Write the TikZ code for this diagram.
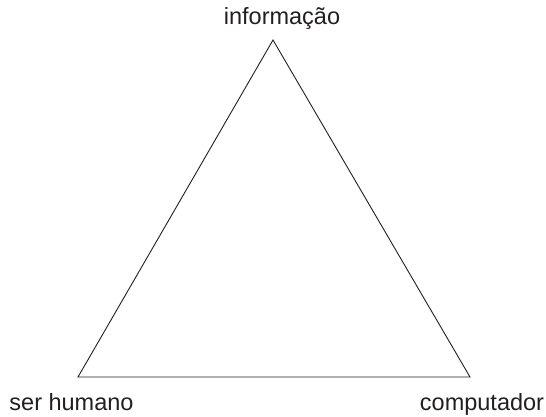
\documentclass[tikz,border=0pt]{standalone}
\usepackage{fontspec}
\setmainfont{Liberation Sans}
\definecolor{ink}{HTML}{231F20}

\begin{document}
\begin{tikzpicture}[x=1pt,y=-1pt,
    lbl/.style={text=ink,inner sep=0pt,anchor=base,font=\fontsize{23.5}{26}\selectfont}]
      \useasboundingbox (0,0) rectangle (546,416);
      \coordinate (topv) at (273,40);
      \coordinate (leftv) at (78,377);
      \coordinate (rightv) at (470,377);
      \draw[ink,line width=0.9pt,line join=miter] (topv) -- (leftv) -- (rightv) -- cycle;
      \node[lbl] (info) at (282,24) {informação};
      \node[lbl] (human) at (71.5,410) {ser humano};
      \node[lbl] (comp) at (482,410) {computador};
    \end{tikzpicture}
\end{document}
